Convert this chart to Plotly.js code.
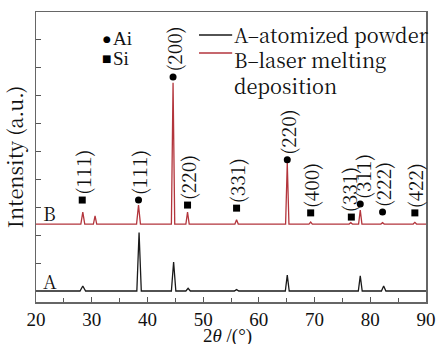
<!DOCTYPE html>
<html>
<head>
<meta charset="utf-8">
<script src="https://cdn.plot.ly/plotly-3.0.1.min.js"></script>
<style>html,body{margin:0;padding:0;background:#fff}#chart{width:439px;height:344px}</style>
</head>
<body>
<div id="chart"></div>
<script>
// Series A (atomized powder)
const xA = [20, 27.9, 28.4, 28.9, 38.1, 38.5, 38.9, 44.3, 44.7, 45.1, 46.9, 47.3, 47.7, 55.6, 56.0, 56.4, 64.75, 65.1, 65.45, 77.85, 78.2, 78.55, 82.0, 82.4, 82.8, 90];
const yA = [0, 0, 0.18, 0, 0, 2.1, 0, 0, 1.04, 0, 0, 0.1, 0, 0, 0.05, 0, 0, 0.57, 0, 0, 0.54, 0, 0, 0.18, 0, 0];
// Series B (laser melting deposition)
const xB = [20, 28.05, 28.4, 28.75, 30.3, 30.6, 30.9, 38.05, 38.4, 38.75, 44.3, 44.6, 44.9, 46.9, 47.2, 47.5, 55.7, 56.0, 56.3, 64.8, 65.1, 65.4, 69.0, 69.3, 69.6, 76.2, 76.5, 76.8, 77.9, 78.2, 78.5, 81.9, 82.2, 82.5, 87.7, 88.0, 88.3, 90];
const yB = [2.4, 2.4, 2.83, 2.4, 2.4, 2.69, 2.4, 2.4, 3.08, 2.4, 2.4, 7.46, 2.4, 2.4, 2.83, 2.4, 2.4, 2.55, 2.4, 2.4, 4.59, 2.4, 2.4, 2.47, 2.4, 2.4, 2.45, 2.4, 2.4, 2.9, 2.4, 2.4, 2.45, 2.4, 2.4, 2.46, 2.4, 2.4];
// Peak identification
const peakLabels = ["(111)", "(111)", "(200)", "(220)", "(331)", "(220)", "(400)", "(331)", "(311)", "(222)", "(422)"];
const peakPhase  = ["Si", "Al", "Al", "Si", "Si", "Al", "Si", "Si", "Al", "Al", "Si"];
const peakX      = [28.3, 38.4, 44.6, 47.2, 56.0, 65.1, 69.3, 76.6, 78.2, 82.2, 88.0];
const peakMarkY  = [3.26, 3.26, 7.67, 3.08, 2.97, 4.70, 2.80, 2.65, 3.12, 2.83, 2.80];
const labelX     = [28.3, 38.4, 44.6, 47.2, 56.0, 65.1, 69.3, 76.1, 78.6, 82.2, 88.0];
const xTicks = [20, 30, 40, 50, 60, 70, 80, 90];

const FONT = "Noto Serif CJK SC";
const FONT2 = "Liberation Serif";
const alIdx = peakPhase.map((p, i) => p === "Al" ? i : -1).filter(i => i >= 0);
const siIdx = peakPhase.map((p, i) => p === "Si" ? i : -1).filter(i => i >= 0);

const traces = [
  {x: xA, y: yA, type: "scatter", mode: "lines", name: "A–atomized powder",
   line: {color: "#1a1a1a", width: 1.3}, hoverinfo: "skip"},
  {x: xB, y: yB, type: "scatter", mode: "lines", name: "B–laser melting deposition",
   line: {color: "#b3353c", width: 1.3}, hoverinfo: "skip"},
  {x: alIdx.map(i => peakX[i]), y: alIdx.map(i => peakMarkY[i]), type: "scatter", mode: "markers",
   name: "Al", marker: {symbol: "circle", size: 7, color: "#000"}},
  {x: siIdx.map(i => peakX[i]), y: siIdx.map(i => peakMarkY[i]), type: "scatter", mode: "markers",
   name: "Si", marker: {symbol: "square", size: 7, color: "#000"}}
];

const annotations = peakLabels.map((t, i) => ({
  x: labelX[i], y: peakMarkY[i], xref: "x", yref: "y", text: t, showarrow: false,
  textangle: -90, xanchor: "center", yanchor: "bottom", yshift: 3,
  font: {family: FONT, size: 19, color: "#111"}
}));
annotations.push(
  {x: 20.9, y: 2.83, xref: "x", yref: "y", text: "B", showarrow: false, xanchor: "left", yanchor: "middle",
   font: {family: FONT, size: 19, color: "#111"}},
  {x: 20.9, y: 0.39, xref: "x", yref: "y", text: "A", showarrow: false, xanchor: "left", yanchor: "middle",
   font: {family: FONT, size: 19, color: "#111"}},
  {x: 0.182, y: 0.907, xref: "paper", yref: "paper", text: "●", showarrow: false, xanchor: "center", yanchor: "middle",
   font: {family: "DejaVu Sans", size: 9, color: "#000"}},
  {x: 0.182, y: 0.841, xref: "paper", yref: "paper", text: "■", showarrow: false, xanchor: "center", yanchor: "middle",
   font: {family: "DejaVu Sans", size: 10, color: "#000"}},
  {x: 0.193, y: 0.907, xref: "paper", yref: "paper", text: "Ai", showarrow: false, xanchor: "left", yanchor: "middle",
   font: {family: FONT2, size: 19, color: "#111"}},
  {x: 0.193, y: 0.841, xref: "paper", yref: "paper", text: "Si", showarrow: false, xanchor: "left", yanchor: "middle",
   font: {family: FONT2, size: 19, color: "#111"}},
  {x: 0.503, y: 0.924, xref: "paper", yref: "paper", text: "A–atomized powder", showarrow: false, xanchor: "left", yanchor: "middle",
   font: {family: FONT, size: 20, color: "#111"}},
  {x: 0.503, y: 0.893, xref: "paper", yref: "paper", text: "B–laser melting<br>deposition", showarrow: false,
   xanchor: "left", yanchor: "top", align: "left",
   font: {family: FONT, size: 20, color: "#111"}},
  {x: 0.49, y: -0.117, xref: "paper", yref: "paper", text: "2<i>θ</i> /(°)", showarrow: false,
   xanchor: "center", yanchor: "middle",
   font: {family: FONT2, size: 19, color: "#111"}}
);

const shapes = [
  {type: "line", xref: "paper", yref: "paper", x0: 0.418, x1: 0.503, y0: 0.921, y1: 0.921,
   line: {color: "#1a1a1a", width: 1.5}},
  {type: "line", xref: "paper", yref: "paper", x0: 0.418, x1: 0.503, y0: 0.859, y1: 0.859,
   line: {color: "#b3353c", width: 1.5}}
];

const layout = {
  width: 439, height: 344,
  margin: {l: 36, r: 13, t: 12, b: 42},
  paper_bgcolor: "#fff", plot_bgcolor: "#fff",
  showlegend: false,
  font: {family: FONT, color: "#111"},
  xaxis: {
    range: [20, 90], tickvals: xTicks, ticktext: xTicks.map(String),
    ticks: "inside", ticklen: 5, tickcolor: "#555", tickwidth: 1,
    minor: {dtick: 5, tick0: 20, ticks: "inside", ticklen: 4, tickcolor: "#555"},
    showline: true, linecolor: "#666", linewidth: 1.5, mirror: true,
    showgrid: false, zeroline: false,
    tickfont: {family: FONT2, size: 19, color: "#111"}
  },
  yaxis: {
    range: [-0.394, 10], dtick: 1, tick0: 0,
    ticks: "inside", ticklen: 5, tickcolor: "#555", tickwidth: 1,
    showticklabels: false,
    showline: true, linecolor: "#666", linewidth: 1.5, mirror: true,
    showgrid: false, zeroline: false,
    title: {text: "Intensity (a.u.)", font: {family: FONT, size: 20, color: "#111"}, standoff: 6}
  },
  annotations: annotations,
  shapes: shapes
};

Plotly.newPlot("chart", traces, layout, {displayModeBar: false, staticPlot: true});
</script>
</body>
</html>
